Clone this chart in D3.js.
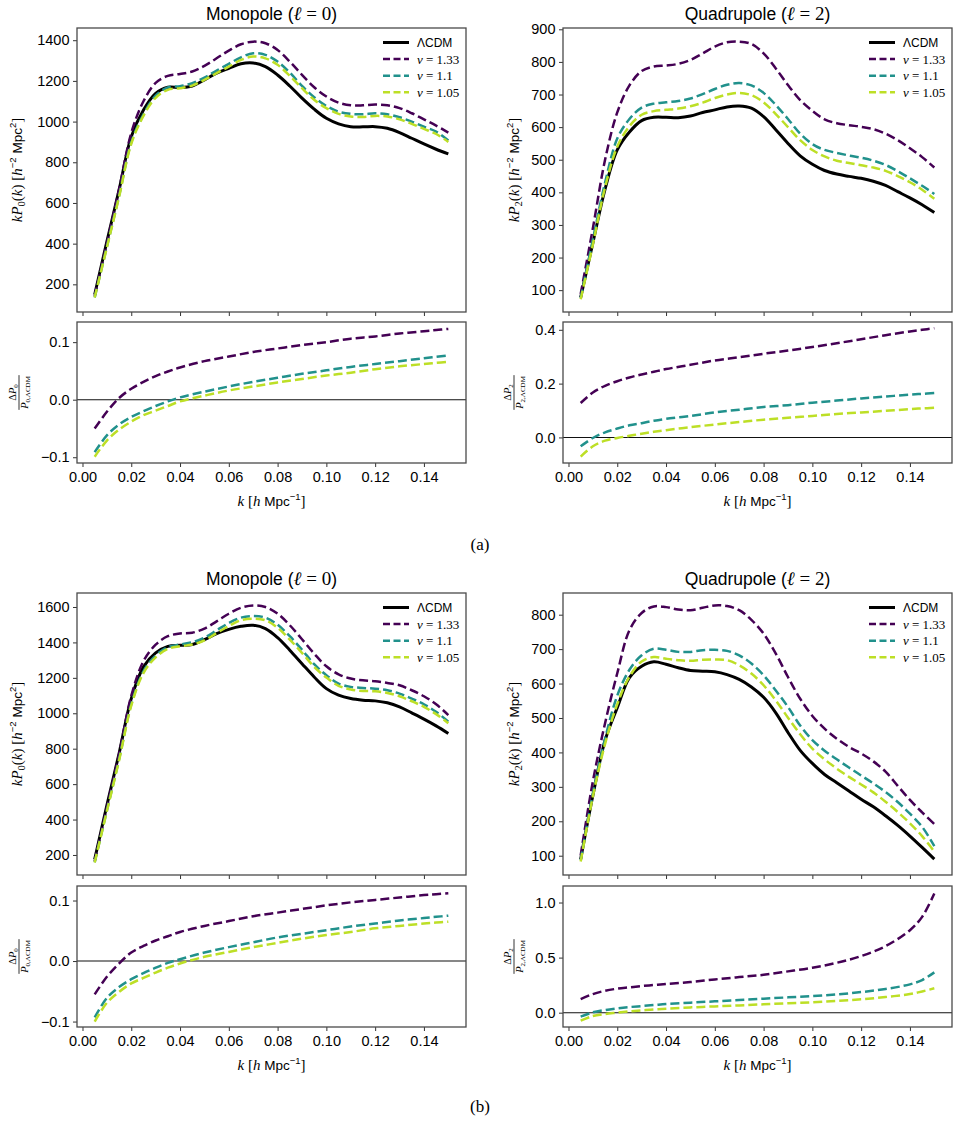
<!DOCTYPE html>
<html>
<head>
<meta charset="utf-8">
<script src="https://cdn.jsdelivr.net/npm/d3@7"></script>
<style>
body { margin: 0; background: #fff; }
svg { display: block; }
</style>
</head>
<body>
<svg id="fig" width="959" height="1125"></svg>
<script>
// k grid for the power spectra and for the ratio panels
var kP = [0.005, 0.01, 0.015, 0.02, 0.025, 0.03, 0.035, 0.04, 0.045, 0.05,
          0.055, 0.06, 0.065, 0.07, 0.075, 0.08, 0.085, 0.09, 0.095, 0.10,
          0.105, 0.11, 0.115, 0.12, 0.125, 0.13, 0.135, 0.14, 0.145, 0.15];
var kR = [0.005, 0.01, 0.015, 0.02, 0.025, 0.03, 0.035, 0.04, 0.05, 0.06,
          0.07, 0.08, 0.09, 0.10, 0.11, 0.12, 0.13, 0.14, 0.145, 0.15];

var xTicks = [0, 0.02, 0.04, 0.06, 0.08, 0.10, 0.12, 0.14];
var legendLabels = ["ΛCDM", "1.33", "1.1", "1.05"];

// (a) monopole kP0
var monoA_lcdm = [150,410,664,926,1057,1139,1169,1167,1175,1205,1238,1262,1284,1288,1270,1229,1175,1115,1061,1016,989,975,974,975,967,946,918,890,864,841];
var monoA_133  = [143,402,666,944,1100,1190,1225,1234,1246,1274,1311,1349,1380,1393,1385,1352,1295,1230,1169,1123,1093,1080,1080,1084,1080,1066,1041,1011,980,946];
var monoA_11   = [136,385,635,898,1036,1127,1168,1174,1189,1216,1251,1284,1316,1336,1328,1295,1241,1175,1120,1077,1049,1038,1036,1041,1036,1021,1000,975,951,907];
var monoA_105  = [135,381,630,891,1028,1117,1156,1164,1177,1205,1238,1270,1303,1320,1311,1279,1225,1164,1107,1066,1038,1025,1023,1028,1025,1011,989,964,939,900];
// (a) quadrupole kP2
var quadA_lcdm = [78,245,410,530,585,620,630,630,629,634,645,653,662,665,658,632,592,550,512,486,467,456,449,443,434,421,402,383,362,338];
var quadA_133  = [88,290,500,645,728,772,786,789,794,806,826,847,860,862,855,826,780,729,683,650,624,612,606,601,594,580,560,535,508,476];
var quadA_11   = [76,255,430,565,625,660,672,676,680,688,701,717,730,735,728,705,668,625,580,548,530,521,513,506,497,484,465,443,420,395];
var quadA_105  = [72,240,415,540,603,638,649,653,657,664,675,689,700,705,698,676,640,600,560,530,510,497,490,483,476,466,450,431,408,380];
// (a) ratios
var ratMonoA_133 = [-0.050,-0.021,0.003,0.019,0.031,0.041,0.049,0.056,0.067,0.075,0.083,0.089,0.095,0.100,0.106,0.110,0.115,0.119,0.121,0.123];
var ratMonoA_11  = [-0.091,-0.062,-0.043,-0.030,-0.020,-0.011,-0.003,0.004,0.014,0.023,0.031,0.038,0.045,0.051,0.057,0.062,0.067,0.072,0.0745,0.077];
var ratMonoA_105 = [-0.099,-0.071,-0.052,-0.038,-0.027,-0.019,-0.011,-0.003,0.007,0.016,0.023,0.030,0.036,0.042,0.047,0.053,0.058,0.062,0.064,0.066];
var ratQuadA_133 = [0.128,0.167,0.192,0.209,0.223,0.234,0.244,0.254,0.270,0.286,0.298,0.311,0.323,0.336,0.350,0.365,0.380,0.394,0.400,0.406];
var ratQuadA_11  = [-0.033,-0.002,0.019,0.033,0.045,0.053,0.062,0.069,0.080,0.093,0.103,0.113,0.120,0.129,0.137,0.145,0.152,0.159,0.162,0.165];
var ratQuadA_105 = [-0.071,-0.033,-0.012,-0.002,0.006,0.014,0.021,0.027,0.038,0.048,0.057,0.066,0.073,0.080,0.087,0.093,0.099,0.105,0.108,0.110];

// (b) monopole kP0
var monoB_lcdm = [175,480,773,1083,1262,1341,1378,1384,1388,1416,1450,1474,1491,1497,1478,1427,1356,1280,1205,1139,1102,1083,1074,1070,1059,1036,1002,967,929,886];
var monoB_133  = [165,468,770,1098,1294,1387,1435,1450,1455,1478,1519,1562,1596,1609,1600,1562,1497,1418,1337,1265,1220,1196,1186,1181,1171,1158,1130,1096,1051,990];
var monoB_11   = [159,451,740,1051,1237,1326,1374,1388,1401,1427,1468,1510,1540,1549,1540,1500,1435,1359,1277,1215,1168,1149,1143,1139,1130,1111,1083,1051,1008,953];
var monoB_105  = [158,447,734,1043,1227,1316,1363,1378,1388,1412,1453,1493,1525,1534,1525,1483,1416,1341,1262,1202,1155,1134,1126,1124,1115,1096,1068,1036,995,944];
// (b) quadrupole kP2
var quadB_lcdm = [90,275,435,530,617,650,663,656,646,638,636,634,626,612,590,560,515,458,406,368,336,312,288,264,242,216,188,157,124,90];
var quadB_133  = [101,316,485,630,755,805,824,822,815,813,820,827,825,813,785,745,687,619,556,506,469,440,416,397,374,344,303,262,226,192];
var quadB_11   = [87,280,440,565,640,682,701,698,692,692,697,698,695,682,658,624,580,532,478,436,405,380,356,333,310,285,256,222,184,128];
var quadB_105  = [83,272,425,540,620,664,677,672,668,666,669,670,668,653,629,595,551,501,453,411,380,353,329,307,284,257,227,194,157,112];
// (b) ratios
var ratMonoB_133 = [-0.055,-0.026,-0.004,0.014,0.025,0.034,0.041,0.048,0.058,0.066,0.074,0.080,0.086,0.092,0.097,0.101,0.105,0.109,0.1105,0.112];
var ratMonoB_11  = [-0.093,-0.061,-0.043,-0.030,-0.020,-0.011,-0.003,0.003,0.014,0.023,0.031,0.039,0.045,0.051,0.057,0.062,0.067,0.071,0.073,0.075];
var ratMonoB_105 = [-0.100,-0.069,-0.051,-0.037,-0.028,-0.019,-0.011,-0.004,0.007,0.015,0.023,0.030,0.037,0.043,0.048,0.054,0.058,0.062,0.0635,0.065];
var ratQuadB_133 = [0.124,0.169,0.199,0.218,0.230,0.242,0.251,0.260,0.278,0.302,0.323,0.344,0.375,0.408,0.453,0.514,0.604,0.749,0.870,1.082];
var ratQuadB_11  = [-0.036,0.003,0.024,0.039,0.051,0.060,0.069,0.079,0.091,0.103,0.115,0.127,0.139,0.151,0.166,0.187,0.215,0.257,0.296,0.366];
var ratQuadB_105 = [-0.073,-0.030,-0.012,0.000,0.012,0.021,0.030,0.036,0.048,0.057,0.066,0.076,0.085,0.094,0.106,0.121,0.142,0.169,0.193,0.221];

var SANS = "'Liberation Sans', Arial, Helvetica, sans-serif";
var SERIF = "'Liberation Serif', 'Times New Roman', serif";
var colors = ["#000000", "#440154", "#21918c", "#bddf26"];

var svg = d3.select("#fig");

// write text made of several styled pieces (sub/superscripts by dy)
function rich(textSel, parts, base) {
    var cur = 0;
    parts.forEach(function (p) {
        var sh = p.sh || 0;
        var ts = textSel.append("tspan").text(p.t)
            .attr("font-family", p.serif ? SERIF : SANS)
            .attr("font-style", p.it ? "italic" : "normal")
            .attr("font-size", p.fs || base);
        if (sh !== cur) { ts.attr("dy", sh - cur); cur = sh; }
    });
}

function panel(opt) {
    var g = svg.append("g");
    var x = d3.scaleLinear().domain([-0.00225, 0.15725]).range([opt.left, opt.right]);
    var y = d3.scaleLinear().domain(opt.yDomain).range([opt.bottom, opt.top]);

    // y axis
    var ya = g.append("g").attr("transform", "translate(" + opt.left + ",0)")
        .call(d3.axisLeft(y).tickValues(opt.yTicks).tickFormat(d3.format(opt.yFmt))
            .tickSize(4).tickPadding(3.5));
    // x axis
    var xa = g.append("g").attr("transform", "translate(0," + opt.bottom + ")")
        .call(d3.axisBottom(x).tickValues(xTicks).tickFormat(opt.xLabels ? d3.format(".2f") : "")
            .tickSize(4).tickPadding(5));
    [ya, xa].forEach(function (a) {
        a.select(".domain").remove();
        a.selectAll(".tick line").attr("stroke", "#333").attr("stroke-width", 1);
        a.selectAll(".tick text").attr("font-family", SANS).attr("font-size", 14.5).attr("fill", "#000");
    });

    if (opt.zero) {
        g.append("line").attr("x1", opt.left).attr("x2", opt.right)
            .attr("y1", y(0)).attr("y2", y(0))
            .attr("stroke", "#111").attr("stroke-width", 1.1);
    }

    var line = d3.line().curve(d3.curveCatmullRom.alpha(0.5))
        .x(function (d, i) { return x(opt.k[i]); })
        .y(function (d) { return y(d); });

    opt.series.forEach(function (s, i) {
        g.append("path").datum(s.v)
            .attr("d", line)
            .attr("fill", "none")
            .attr("stroke", s.c)
            .attr("stroke-width", s.dash ? 2.5 : 3)
            .attr("stroke-dasharray", s.dash ? "9,4" : null)
            .attr("stroke-linecap", "butt");
    });

    g.append("rect").attr("x", opt.left).attr("y", opt.top)
        .attr("width", opt.right - opt.left).attr("height", opt.bottom - opt.top)
        .attr("fill", "none").attr("stroke", "#4a4a4a").attr("stroke-width", 1.3);

    if (opt.legend) {
        legendLabels.forEach(function (lab, i) {
            var ly = opt.top + 14.5 + i * 16.6;
            g.append("line").attr("x1", opt.right - 83).attr("x2", opt.right - 57)
                .attr("y1", ly).attr("y2", ly)
                .attr("stroke", colors[i]).attr("stroke-width", i === 0 ? 3 : 2.5)
                .attr("stroke-dasharray", i === 0 ? null : "7,3.5");
            var t = g.append("text").attr("x", opt.right - 49).attr("y", ly + 4.5);
            if (i === 0) rich(t, [{t: "ΛCDM"}], 12);
            else rich(t, [{t: "ν", serif: 1, it: 1}, {t: " = " + lab, serif: 1}], 13);
        });
    }
    return g;
}

function upperLabel(cx, cy, idx) {
    var t = svg.append("text").attr("transform", "translate(" + cx + "," + cy + ") rotate(-90)")
        .attr("text-anchor", "middle");
    rich(t, [
        {t: "kP", serif: 1, it: 1, fs: 15},
        {t: idx, serif: 1, fs: 10.5, sh: 3},
        {t: "(", serif: 1, fs: 15},
        {t: "k", serif: 1, it: 1, fs: 15},
        {t: ") [", serif: 1, fs: 15},
        {t: "h", serif: 1, it: 1, fs: 15},
        {t: "−2", fs: 9.5, sh: -6},
        {t: " Mpc", fs: 13.5},
        {t: "2", fs: 9.5, sh: -6},
        {t: "]", serif: 1, fs: 15}
    ], 14);
}

function ratioLabel(cx, cy, idx) {
    var g = svg.append("g").attr("transform", "translate(" + cx + "," + cy + ") rotate(-90)");
    var num = g.append("text").attr("x", 0).attr("y", -3).attr("text-anchor", "middle");
    rich(num, [{t: "Δ", serif: 1}, {t: "P", serif: 1, it: 1}, {t: idx, serif: 1, fs: 7, sh: 2}], 10.5);
    var den = g.append("text").attr("x", 0).attr("y", 9).attr("text-anchor", "middle");
    rich(den, [{t: "P", serif: 1, it: 1}, {t: idx + ",ΛCDM", serif: 1, fs: 7, sh: 2}], 10.5);
    var w = den.node().getComputedTextLength();
    g.append("line").attr("x1", -w / 2 - 1).attr("x2", w / 2 + 1).attr("y1", 0).attr("y2", 0)
        .attr("stroke", "#000").attr("stroke-width", 0.8);
}

function title(cx, y, name, idx) {
    var t = svg.append("text").attr("x", cx).attr("y", y).attr("text-anchor", "middle");
    rich(t, [{t: name + " ("}, {t: "ℓ", serif: 1, it: 1, fs: 19}, {t: " = " + idx, serif: 1, fs: 19}, {t: ")"}], 17.5);
}

function xLabel(cx, y) {
    var t = svg.append("text").attr("x", cx).attr("y", y).attr("text-anchor", "middle");
    rich(t, [{t: "k", serif: 1, it: 1, fs: 15}, {t: " [", serif: 1, fs: 15}, {t: "h", serif: 1, it: 1, fs: 15},
             {t: " Mpc", fs: 13.5}, {t: "−1", fs: 9.5, sh: -6}, {t: "]", serif: 1, fs: 15}], 14);
}

function block(rows, d, caption) {
    var L = {left: 77, right: 466}, R = {left: 563, right: 952};
    var ser = function (arr) {
        return arr.map(function (v, i) { return {v: v, c: colors[i], dash: i > 0}; });
    };
    var rser = function (arr) {
        return arr.map(function (v, i) { return {v: v, c: colors[i + 1], dash: true}; });
    };
    panel({left: L.left, right: L.right, top: rows.top, bottom: rows.mid, yDomain: d.monoDom,
           yTicks: d.monoTicks, yFmt: "d", xLabels: false, k: kP, series: ser(d.mono), legend: true});
    panel({left: R.left, right: R.right, top: rows.top, bottom: rows.mid, yDomain: d.quadDom,
           yTicks: d.quadTicks, yFmt: "d", xLabels: false, k: kP, series: ser(d.quad), legend: true});
    panel({left: L.left, right: L.right, top: rows.lowTop, bottom: rows.bottom, yDomain: d.rmDom,
           yTicks: d.rmTicks, yFmt: ".1f", xLabels: true, k: kR, series: rser(d.rm), zero: true});
    panel({left: R.left, right: R.right, top: rows.lowTop, bottom: rows.bottom, yDomain: d.rqDom,
           yTicks: d.rqTicks, yFmt: ".1f", xLabels: true, k: kR, series: rser(d.rq), zero: true});

    title((L.left + L.right) / 2, rows.top - 8, "Monopole", "0");
    title((R.left + R.right) / 2, rows.top - 8, "Quadrupole", "2");
    upperLabel(22, (rows.top + rows.mid) / 2, "0");
    upperLabel(519, (rows.top + rows.mid) / 2, "2");
    ratioLabel(19, (rows.lowTop + rows.bottom) / 2, "0");
    ratioLabel(514, (rows.lowTop + rows.bottom) / 2, "2");
    xLabel((L.left + L.right) / 2, rows.bottom + 43);
    xLabel((R.left + R.right) / 2, rows.bottom + 43);

    svg.append("text").attr("x", 480).attr("y", rows.bottom + rows.capOff)
        .attr("text-anchor", "middle").attr("font-family", SERIF).attr("font-size", 17)
        .text(caption);
}

block({top: 28, mid: 312, lowTop: 322, bottom: 463, capOff: 87}, {
    mono: [monoA_lcdm, monoA_133, monoA_11, monoA_105], monoDom: [64, 1460], monoTicks: [200, 400, 600, 800, 1000, 1200, 1400],
    quad: [quadA_lcdm, quadA_133, quadA_11, quadA_105], quadDom: [33, 904], quadTicks: [100, 200, 300, 400, 500, 600, 700, 800, 900],
    rm: [ratMonoA_133, ratMonoA_11, ratMonoA_105], rmDom: [-0.110, 0.135], rmTicks: [-0.1, 0, 0.1],
    rq: [ratQuadA_133, ratQuadA_11, ratQuadA_105], rqDom: [-0.095, 0.429], rqTicks: [0, 0.2, 0.4]
}, "(a)");

block({top: 593, mid: 875, lowTop: 886, bottom: 1027, capOff: 85}, {
    mono: [monoB_lcdm, monoB_133, monoB_11, monoB_105], monoDom: [87, 1679], monoTicks: [200, 400, 600, 800, 1000, 1200, 1400, 1600],
    quad: [quadB_lcdm, quadB_133, quadB_11, quadB_105], quadDom: [44, 863], quadTicks: [100, 200, 300, 400, 500, 600, 700, 800],
    rm: [ratMonoB_133, ratMonoB_11, ratMonoB_105], rmDom: [-0.109, 0.124], rmTicks: [-0.1, 0, 0.1],
    rq: [ratQuadB_133, ratQuadB_11, ratQuadB_105], rqDom: [-0.13, 1.15], rqTicks: [0, 0.5, 1.0]
}, "(b)");
</script>
</body>
</html>
